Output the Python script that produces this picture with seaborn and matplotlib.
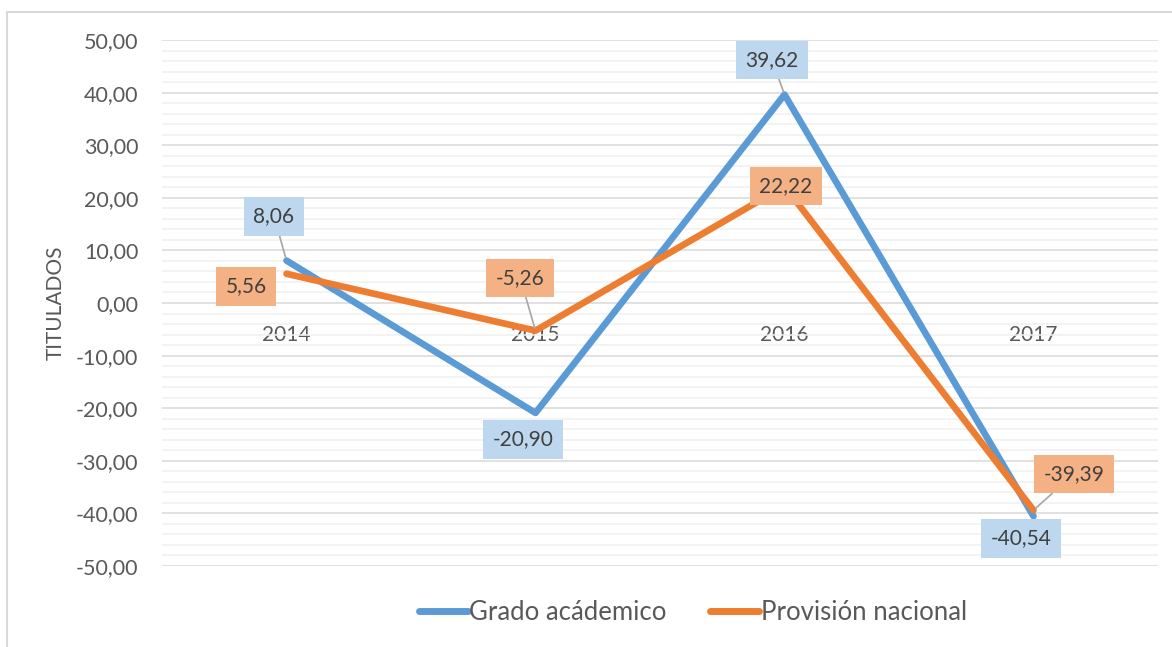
import seaborn as sns
import matplotlib.pyplot as plt
import pandas as pd
from matplotlib.patches import Rectangle
from matplotlib.ticker import MultipleLocator, FuncFormatter

# Datos del gráfico
years = ['2014', '2015', '2016', '2017']
grado_academico = [8.06, -20.90, 39.62, -40.54]
provision_nacional = [5.56, -5.26, 22.22, -39.39]
series_names = ['Grado acádemico', 'Provisión nacional']

# Desplazamientos de las etiquetas (puntos) y si llevan línea guía
offsets_grado = [(-9, 32), (-9, -19), (-9, 25), (-9, -16)]
leader_grado = [True, False, True, False]
offsets_prov = [(-29, -9), (-11, 38), (1, 0), (29, 26)]
leader_prov = [False, True, False, True]

colors = ['#5B9BD5', '#ED7D31']
box_colors = ['#BDD7EE', '#F4B183']
text_color = '#595959'

sns.set_theme(style='white')
plt.rcParams['font.family'] = ['Lato', 'DejaVu Sans']

df = pd.DataFrame({
    'Año': years * 2,
    'Valor': grado_academico + provision_nacional,
    'Serie': [series_names[0]] * 4 + [series_names[1]] * 4,
})

fig = plt.figure(figsize=(11.72, 6.47), dpi=100)
ax = fig.add_axes([162 / 1172, 1 - 566 / 647, 996 / 1172, 526 / 647])

sns.lineplot(data=df, x='Año', y='Valor', hue='Serie', palette=colors,
             linewidth=4.8, ax=ax, legend=False, sort=False,
             solid_capstyle='round', solid_joinstyle='round')

ax.set_xlim(-0.5, 3.5)
ax.set_ylim(-50, 50)
ax.yaxis.set_major_locator(MultipleLocator(10))
ax.yaxis.set_minor_locator(MultipleLocator(2))
ax.yaxis.set_major_formatter(FuncFormatter(lambda v, p: f"{v:.2f}".replace('.', ',')))
ax.grid(which='major', axis='y', color='#D9D9D9', linewidth=1.1, zorder=0)
ax.grid(which='minor', axis='y', color='#F0F0F0', linewidth=1.1, zorder=0)
ax.grid(False, axis='x')
ax.set_axisbelow(True)

for s in ['top', 'right', 'left']:
    ax.spines[s].set_visible(False)
ax.spines['bottom'].set_position(('data', 0))
ax.spines['bottom'].set_visible(False)

ax.tick_params(axis='x', length=0, pad=16, labelsize=15, labelcolor=text_color)
ax.tick_params(axis='y', which='both', length=0, pad=17, labelsize=15.5, labelcolor=text_color)
ax.set_xlabel('')
ax.set_ylabel('TITULADOS', fontsize=15, color=text_color)
ax.yaxis.set_label_coords(-96 / 996, 0.5)


def add_labels(values, offsets, leaders, box_color):
    for i, (v, off, lead) in enumerate(zip(values, offsets, leaders)):
        label = f"{v:.2f}".replace('.', ',')
        arrow = dict(arrowstyle='-', color='#A6A6A6', lw=1.2, shrinkA=0, shrinkB=2) if lead else None
        ax.annotate(label, xy=(i, v), xytext=off, textcoords='offset points',
                    ha='center', va='center', fontsize=15, color='#404040',
                    bbox=dict(boxstyle='square,pad=0.45', fc=box_color, ec='none'),
                    arrowprops=arrow, zorder=5)


add_labels(grado_academico, offsets_grado, leader_grado, box_colors[0])
add_labels(provision_nacional, offsets_prov, leader_prov, box_colors[1])

# Leyenda
handles = [plt.Line2D([], [], color=c, linewidth=5, solid_capstyle='round') for c in colors]
fig.legend(handles, series_names, loc='center', bbox_to_anchor=(693 / 1172, 1 - 612 / 647),
           ncol=2, frameon=False, fontsize=18.5, handlelength=1.9, handletextpad=0.05,
           columnspacing=1.7, labelcolor=text_color)

# Borde exterior del gráfico
fig.patches.append(Rectangle((7 / 1172, -0.1), 1.2, 1.1 - 12 / 647, transform=fig.transFigure,
                             fill=False, edgecolor='#D9D9D9', linewidth=1.5))

plt.savefig('out.png', dpi=100)
plt.close()
